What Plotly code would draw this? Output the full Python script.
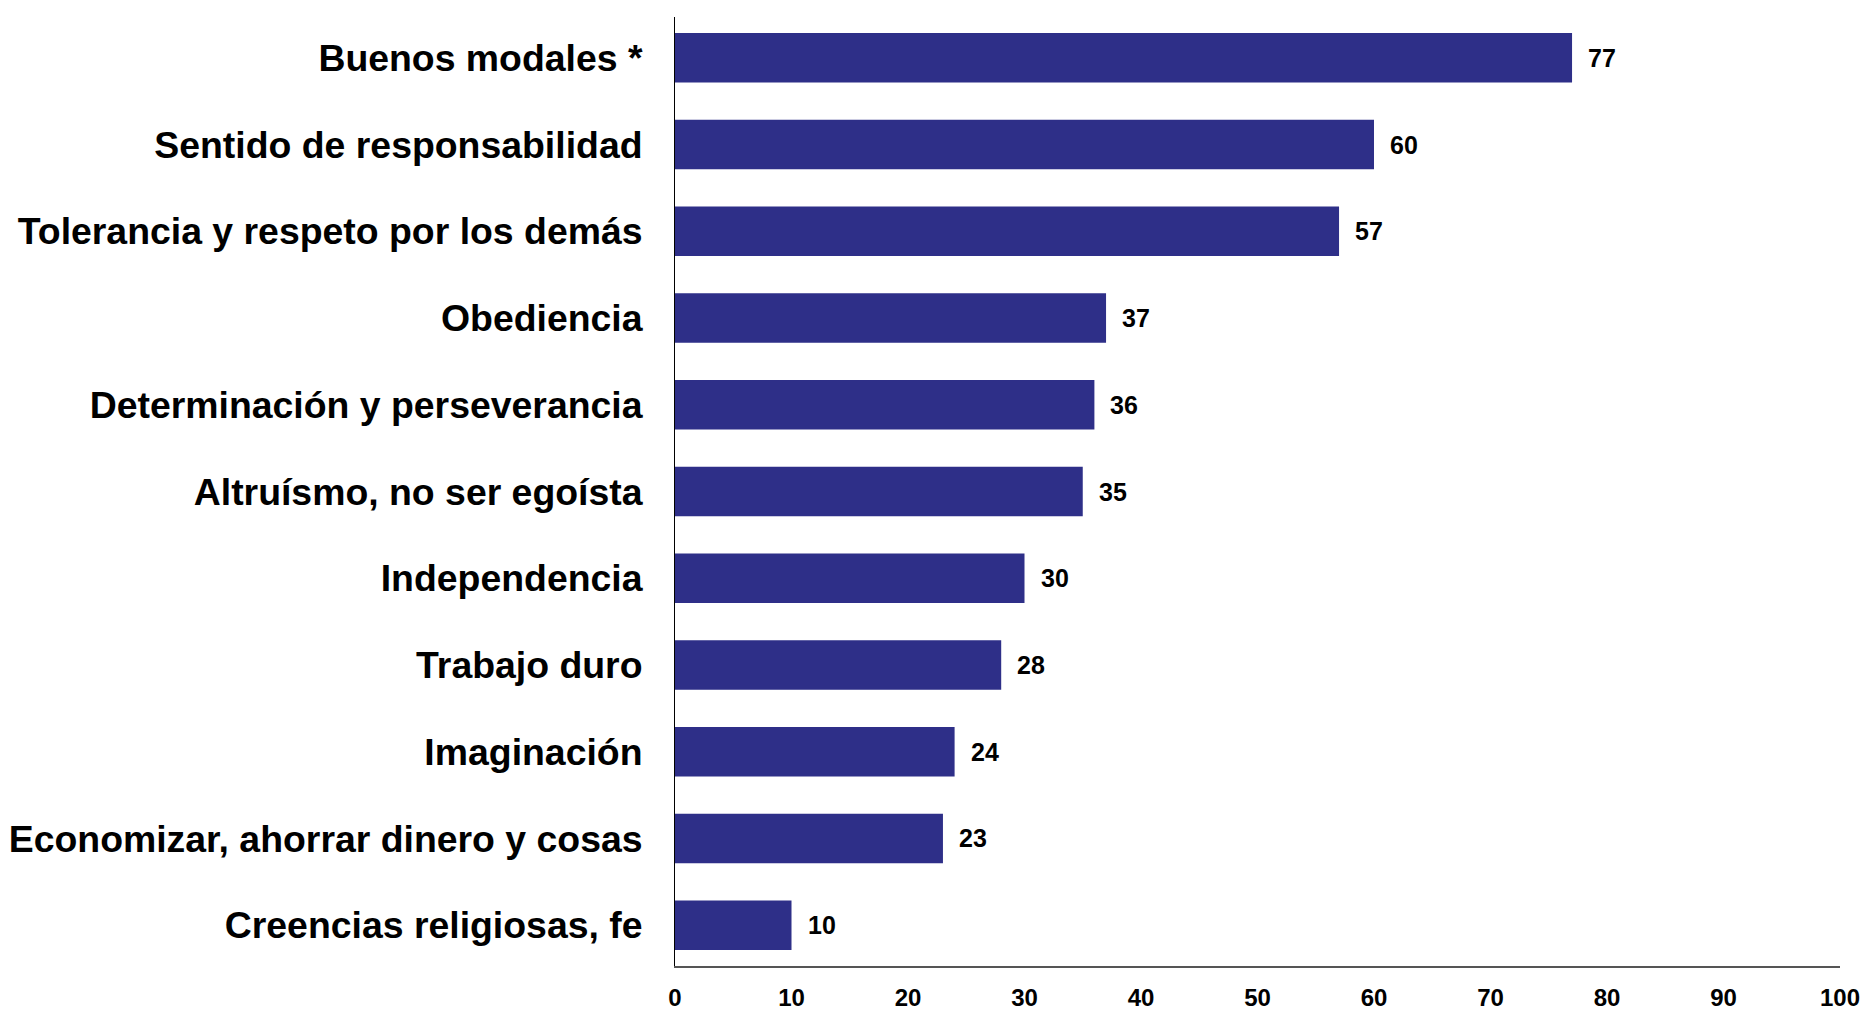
import plotly.graph_objects as go

categories = [
    "Buenos modales *",
    "Sentido de responsabilidad",
    "Tolerancia y respeto por los demás",
    "Obediencia",
    "Determinación y perseverancia",
    "Altruísmo, no ser egoísta",
    "Independencia",
    "Trabajo duro",
    "Imaginación",
    "Economizar, ahorrar dinero y cosas",
    "Creencias religiosas, fe",
]
values = [77, 60, 57, 37, 36, 35, 30, 28, 24, 23, 10]
x_ticks = [0, 10, 20, 30, 40, 50, 60, 70, 80, 90, 100]

bar_color = "#2e2f88"
font_family = "Liberation Sans, Arial, sans-serif"

fig = go.Figure()
fig.add_trace(
    go.Bar(
        x=values,
        y=categories,
        orientation="h",
        marker=dict(color=bar_color, line=dict(width=0)),
        width=0.57,
        hoverinfo="x+y",
    )
)

for cat, val in zip(categories, values):
    fig.add_annotation(
        x=val,
        y=cat,
        text=str(val),
        showarrow=False,
        xanchor="left",
        xshift=14,
        font=dict(family=font_family, size=25, color="#000000", weight="bold"),
    )

fig.update_layout(
    width=1864,
    height=1010,
    plot_bgcolor="#ffffff",
    paper_bgcolor="#ffffff",
    margin=dict(l=675, r=24, t=17, b=44, autoexpand=False),
    showlegend=False,
    font=dict(family=font_family, color="#000000"),
    xaxis=dict(
        range=[0, 100],
        tickvals=x_ticks,
        ticktext=[str(t) for t in x_ticks],
        showgrid=False,
        zeroline=False,
        showline=True,
        linecolor="#555555",
        linewidth=2,
        ticks="outside",
        ticklen=9,
        tickcolor="rgba(0,0,0,0)",
        automargin=False,
        tickfont=dict(family=font_family, size=24, color="#000000", weight="bold"),
    ),
    yaxis=dict(
        type="category",
        range=[10.47, -0.47],
        showgrid=False,
        zeroline=False,
        showline=True,
        linecolor="#000000",
        linewidth=1,
        ticks="outside",
        ticklen=24,
        tickcolor="rgba(0,0,0,0)",
        automargin=False,
        tickfont=dict(family=font_family, size=37.4, color="#000000", weight="bold"),
    ),
)

# drop the default 8px body margin so the figure fills the window exactly
fig.write_html(
    "out.html",
    config={"displayModeBar": False},
    post_script="document.body.style.margin = '0';",
)
